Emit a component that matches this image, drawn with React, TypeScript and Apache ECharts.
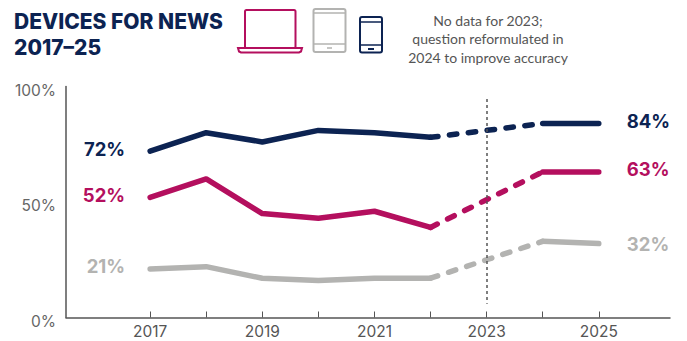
import React, { useEffect, useRef } from "react";
import * as echarts from "echarts";

const NAVY = "#0c2352";
const MAGENTA = "#b40f5e";
const GREY = "#b3b3b1";

const years = [2017, 2018, 2019, 2020, 2021, 2022, 2023, 2024, 2025];
const labelledYears = [2017, 2019, 2021, 2023, 2025];
const smartphone = [72, 80, 76, 81, 80, 78, 81, 84, 84];
const computer = [52, 60, 45, 43, 46, 39, 51, 63, 63];
const tablet = [21, 22, 17, 16, 17, 17, 25, 33, 32];
const gapYears = [2022, 2023, 2024];
const noteLine = [[2023, 94.6], [2023, 6]];
const yTicks = [0, 50, 100];

function solid(name: string, vals: number[], color: string, rightDy = -2.5) {
  const pts = years
    .map((y, i) => ({ y, v: vals[i] }))
    .filter((p) => p.y <= 2022);
  const pts2 = years
    .map((y, i) => ({ y, v: vals[i] }))
    .filter((p) => p.y >= 2024);
  const labelStyle = {
    show: true,
    color,
    fontFamily: "Inter",
    fontWeight: 700,
    fontSize: 18.5,
    formatter: (p: any) => `${p.value[1]}%`,
  };
  const line = { color, width: 5.5, cap: "round", join: "round" };
  return [
    {
      name,
      type: "line",
      symbol: "none",
      showSymbol: true,
      lineStyle: line,
      data: pts.map((p, i) =>
        i === 0
          ? { value: [p.y, p.v], symbol: "circle", symbolSize: 0.01, label: { ...labelStyle, position: "left", distance: 25, offset: [0, -2.5] } }
          : [p.y, p.v]
      ),
    },
    {
      name: name + " 2024-25",
      type: "line",
      symbol: "none",
      lineStyle: line,
      data: pts2.map((p, i) =>
        i === pts2.length - 1
          ? { value: [p.y, p.v], symbol: "circle", symbolSize: 0.01, label: { ...labelStyle, position: "right", distance: 28, offset: [0, rightDy] } }
          : [p.y, p.v]
      ),
    },
    {
      name: name + " reformulated",
      type: "line",
      symbol: "none",
      lineStyle: { color, width: 5.5, cap: "round", type: [7.5, 11.5] },
      data: years.map((y, i) => ({ y, v: vals[i] })).filter((p) => gapYears.includes(p.y)).map((p) => [p.y, p.v]),
    },
  ];
}

const laptop = [
  { type: "rect", shape: { x: 245, y: 10, width: 50.5, height: 38, r: 1.5 }, style: { fill: "none", stroke: MAGENTA, lineWidth: 2 } },
  { type: "polygon", shape: { points: [[238, 48], [302, 48], [301, 51.5], [299, 52.5], [241, 52.5], [239, 51.5]] }, style: { fill: "#fff", stroke: MAGENTA, lineWidth: 2 } },
];
const tabletIcon = [
  { type: "rect", shape: { x: 313.5, y: 9, width: 32, height: 43, r: 2 }, style: { fill: "none", stroke: GREY, lineWidth: 2 } },
  { type: "line", shape: { x1: 313.5, y1: 13, x2: 345.5, y2: 13 }, style: { stroke: GREY, lineWidth: 1.5 } },
  { type: "line", shape: { x1: 313.5, y1: 44, x2: 345.5, y2: 44 }, style: { stroke: GREY, lineWidth: 1.5 } },
  { type: "line", shape: { x1: 327, y1: 48, x2: 332, y2: 48 }, style: { stroke: GREY, lineWidth: 1.5 } },
];
const phoneIcon = [
  { type: "rect", shape: { x: 360, y: 17, width: 22, height: 35.5, r: 2 }, style: { fill: "none", stroke: NAVY, lineWidth: 2 } },
  { type: "line", shape: { x1: 360, y1: 22, x2: 382, y2: 22 }, style: { stroke: NAVY, lineWidth: 1.5 } },
  { type: "line", shape: { x1: 360, y1: 45, x2: 382, y2: 45 }, style: { stroke: NAVY, lineWidth: 1.5 } },
  { type: "line", shape: { x1: 368, y1: 49, x2: 374, y2: 49 }, style: { stroke: NAVY, lineWidth: 2 } },
];

export default function App() {
  const ref = useRef<HTMLDivElement>(null);
  useEffect(() => {
    const chart = echarts.init(ref.current!, undefined, { renderer: "svg" });
    const series: any[] = [
      ...solid("Computer", computer, MAGENTA),
      ...solid("Tablet", tablet, GREY, 0),
      ...solid("Smartphone", smartphone, NAVY),
    ];
    series.push({
      name: "No data",
      type: "line",
      symbol: "none",
      data: [],
      markLine: {
        silent: true,
        symbol: "none",
        label: { show: false },
        lineStyle: { color: "#555", width: 1.5, type: [3, 3] },
        data: [[{ coord: noteLine[0] }, { coord: noteLine[1] }]],
      },
    });
    chart.setOption({
      animation: false,
      backgroundColor: "#fff",
      grid: { left: 66, right: 17, top: 86.5, bottom: 23.5 },
      xAxis: {
        type: "value",
        min: 2015.5,
        max: 2026.27,
        splitLine: { show: false },
        axisLine: { onZero: false, lineStyle: { color: "#555", width: 1.5 } },
        axisTick: { show: true, inside: true, length: 6, customValues: years, lineStyle: { color: "#555", width: 1 } },
        axisLabel: {
          customValues: labelledYears,
          formatter: (v: number) => String(v),
          color: "#555",
          fontFamily: "Inter",
          fontSize: 15.5,
          margin: 6,
          showMinLabel: true,
          showMaxLabel: true,
        },
      },
      yAxis: {
        type: "value",
        min: 0,
        max: 100,
        interval: 50,
        splitLine: { show: false },
        axisLine: { show: true, lineStyle: { color: "#555", width: 1.5 } },
        axisTick: { show: false },
        axisLabel: {
          formatter: (v: number) => (yTicks.includes(v) ? `${v}%` : ""),
          color: "#666",
          fontFamily: "Inter",
          fontSize: 15.5,
          margin: 10,
          verticalAlign: "top",
          lineHeight: 7,
        },
      },
      graphic: [
        {
          type: "text",
          x: 14,
          y: 8,
          style: { text: "DEVICES FOR NEWS\n2017–25", fill: NAVY, font: "800 21px Inter", lineHeight: 26 },
        },
        ...laptop,
        ...tabletIcon,
        ...phoneIcon,
        {
          type: "text",
          x: 488,
          y: 11,
          style: {
            text: "No data for 2023;\nquestion reformulated in\n2024 to improve accuracy",
            fill: "#555",
            font: "400 14px Lato",
            lineHeight: 18.5,
            align: "center",
          },
        },
      ],
      series,
    });
    return () => chart.dispose();
  }, []);
  return <div ref={ref} style={{ position: "absolute", left: 0, top: 0, width: 687, height: 341 }} />;
}
